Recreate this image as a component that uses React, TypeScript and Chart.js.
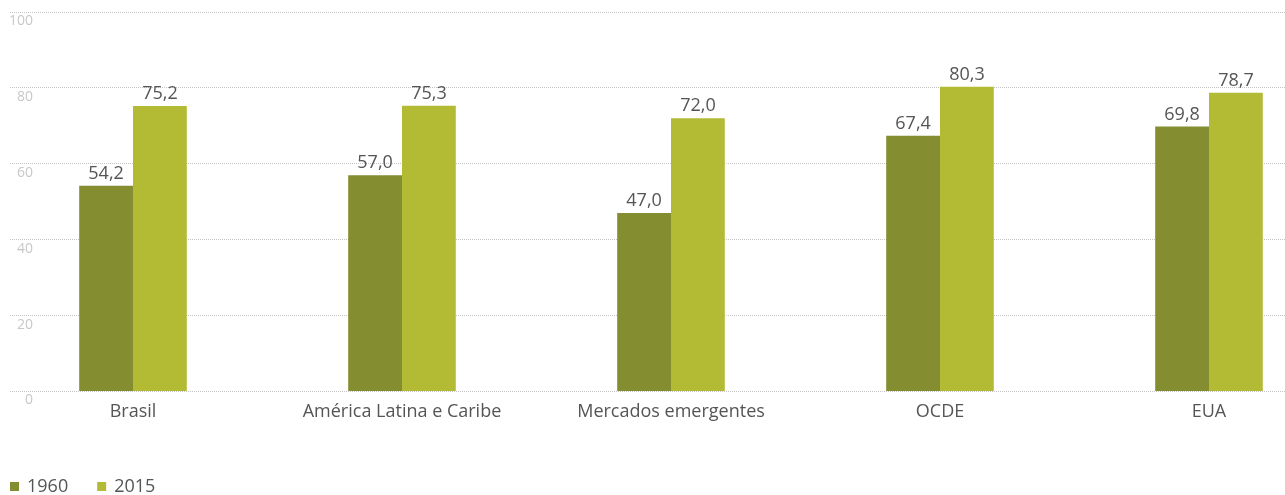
import React, { useEffect, useRef } from "react";
import { Chart, registerables } from "chart.js";

Chart.register(...registerables);

const categories = ["Brasil", "América Latina e Caribe", "Mercados emergentes", "OCDE", "EUA"];
const seriesNames = ["1960", "2015"];
const values1960 = [54.2, 57.0, 47.0, 67.4, 69.8];
const values2015 = [75.2, 75.3, 72.0, 80.3, 78.7];
const yTicks = [0, 20, 40, 60, 80, 100];
const colors = ["#848D30", "#B3BB35"];

const FONT = "'Open Sans', 'Noto Sans', sans-serif";
const TEXT = "#555555";

const fmt = (v: number) => v.toFixed(1).replace(".", ",");

const yLabelPlugin = {
  id: "yLabels",
  afterDraw(chart: any) {
    const { ctx, chartArea } = chart;
    const y = chart.scales.y;
    ctx.save();
    ctx.font = `14px ${FONT}`;
    ctx.fillStyle = "#c8c8c8";
    ctx.textAlign = "right";
    ctx.textBaseline = "alphabetic";
    yTicks.forEach((t) => {
      ctx.fillText(String(t), chartArea.left + 23, y.getPixelForValue(t) + 13);
    });
    ctx.restore();
  },
};

const dataLabelPlugin = {
  id: "dataLabels",
  afterDatasetsDraw(chart: any) {
    const { ctx } = chart;
    ctx.save();
    ctx.font = `18px ${FONT}`;
    ctx.fillStyle = TEXT;
    ctx.textAlign = "center";
    ctx.textBaseline = "alphabetic";
    chart.data.datasets.forEach((ds: any, di: number) => {
      const meta = chart.getDatasetMeta(di);
      meta.data.forEach((bar: any, i: number) => {
        ctx.fillText(fmt(ds.data[i].y), bar.x, bar.y - 7);
      });
    });
    ctx.restore();
  },
};

const legendPlugin = {
  id: "customLegend",
  afterDraw(chart: any) {
    const { ctx, chartArea } = chart;
    ctx.save();
    ctx.font = `18px ${FONT}`;
    ctx.textAlign = "left";
    ctx.textBaseline = "alphabetic";
    let x = chartArea.left;
    const top = chart.height - 13;
    chart.data.datasets.forEach((ds: any) => {
      ctx.fillStyle = ds.backgroundColor;
      ctx.fillRect(x, top, 9, 9);
      ctx.fillStyle = TEXT;
      const tx = x + 17;
      ctx.fillText(ds.label, tx, top + 10);
      x = tx + ctx.measureText(ds.label).width + 29;
    });
    ctx.restore();
  },
};

export default function App() {
  const ref = useRef<HTMLCanvasElement | null>(null);

  useEffect(() => {
    document.body.style.margin = "0";
    if (!ref.current) return;
    const spacing = 269;
    const firstCenter = 133;
    const left = 10;
    const width = 1285;
    const chart = new Chart(ref.current, {
      type: "bar",
      data: {
        datasets: [
          {
            label: seriesNames[0],
            data: values1960.map((v, i) => ({ x: i, y: v })),
            backgroundColor: colors[0],
            categoryPercentage: 0.4,
            barPercentage: 1,
          },
          {
            label: seriesNames[1],
            data: values2015.map((v, i) => ({ x: i, y: v })),
            backgroundColor: colors[1],
            categoryPercentage: 0.4,
            barPercentage: 1,
          },
        ] as any,
      },
      plugins: [yLabelPlugin, dataLabelPlugin, legendPlugin],
      options: {
        responsive: false,
        animation: false,
        devicePixelRatio: 1,
        layout: { padding: { left: 10, right: 0, top: 12, bottom: 62 } },
        plugins: { legend: { display: false }, tooltip: { enabled: false } },
        scales: {
          x: {
            type: "linear",
            offset: false,
            min: (left - firstCenter) / spacing,
            max: (width - firstCenter) / spacing,
            afterBuildTicks: (scale: any) => {
              scale.ticks = categories.map((_, i) => ({ value: i }));
            },
            grid: { display: false, drawTicks: false },
            border: { display: false },
            ticks: {
              autoSkip: false,
              maxRotation: 0,
              padding: 10,
              color: TEXT,
              font: { family: FONT, size: 18 },
              callback: (v: any) => categories[Math.round(Number(v))] ?? "",
            },
          },
          y: {
            min: 0,
            max: 100,
            afterBuildTicks: (scale: any) => {
              scale.ticks = yTicks.map((v) => ({ value: v }));
            },
            grid: { color: "#c4c4c4", drawTicks: false },
            border: { display: false, dash: [1, 1] },
            ticks: { display: false },
          },
        },
      } as any,
    });
    return () => chart.destroy();
  }, []);

  return (
    <div style={{ width: 1285, height: 495 }}>
      <canvas ref={ref} width={1285} height={495} />
    </div>
  );
}
